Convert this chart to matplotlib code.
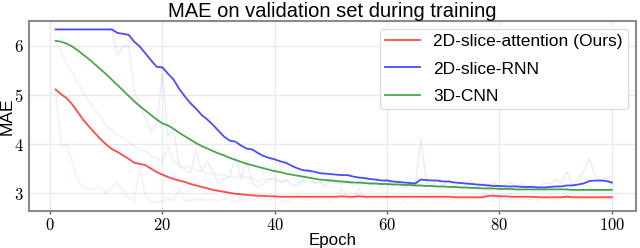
import matplotlib
matplotlib.use("Agg")
import matplotlib.pyplot as plt
import numpy as np

epochs = np.arange(1, 101)

labels = ["2D-slice-attention (Ours)", "2D-slice-RNN", "3D-CNN"]
colors = ["red", "blue", "green"]

# raw validation MAE per epoch
attn_raw = [5.11, 3.95, 3.99, 3.60, 3.24, 3.12, 3.11, 3.08, 3.13, 3.00,
            3.12, 3.22, 3.05, 2.90, 2.84, 3.52, 2.93, 2.84, 2.82, 2.83,
            2.88, 2.86, 3.08, 2.85, 2.86, 2.88, 2.87, 2.86, 2.88, 2.85,
            2.90, 2.86, 2.83, 2.88, 2.87, 2.86, 2.92, 2.88, 2.86, 2.90,
            2.86, 2.84, 2.87, 2.95, 2.88, 2.86, 2.89, 2.87, 2.90, 2.86,
            2.92, 3.10, 2.88, 2.90, 3.10, 2.89, 2.87, 2.90, 2.88, 2.91,
            2.87, 2.89, 2.86, 2.90, 2.88, 2.87, 2.92, 2.89, 2.87, 2.90,
            2.88, 2.86, 2.90, 2.87, 2.89, 2.88, 2.92, 3.22, 2.95, 2.90,
            2.88, 2.86, 2.88, 2.87, 2.89, 2.88, 2.86, 2.90, 2.88, 2.87,
            2.89, 2.98, 2.88, 2.87, 2.89, 2.88, 2.90, 2.88, 2.87, 2.89]

rnn_raw = [6.33, 6.33, 6.33, 6.33, 6.33, 6.33, 6.33, 6.33, 6.33, 6.33,
           6.33, 5.81, 5.98, 6.01, 5.07, 4.79, 4.52, 4.25, 4.39, 5.44,
           4.15, 4.29, 3.54, 3.50, 3.41, 3.88, 3.47, 3.65, 3.45, 3.20,
           3.30, 3.34, 3.76, 3.27, 3.68, 3.20, 3.13, 3.20, 3.27, 3.32,
           3.22, 3.28, 3.18, 3.15, 3.25, 3.52, 3.20, 3.25, 3.16, 3.30,
           3.22, 3.18, 3.26, 3.15, 3.20, 3.28, 3.17, 3.22, 3.14, 3.30,
           3.16, 3.24, 3.12, 3.20, 3.15, 4.12, 3.22, 3.18, 3.25, 3.16,
           3.27, 3.14, 3.22, 3.18, 3.26, 3.12, 3.20, 3.16, 3.24, 3.10,
           3.18, 3.22, 3.14, 3.20, 3.12, 3.16, 3.10, 3.22, 3.18, 3.28,
           3.20, 3.44, 3.15, 3.30, 3.45, 3.71, 3.36, 3.26, 3.32, 3.20]

cnn_raw = [6.10, 5.88, 5.64, 5.44, 5.24, 5.04, 4.86, 4.70, 4.55, 4.38,
           4.28, 4.18, 4.12, 4.04, 3.95, 3.88, 3.86, 3.76, 3.72, 3.64,
           3.95, 3.62, 3.58, 3.54, 3.52, 3.47, 3.45, 3.41, 3.40, 3.37,
           3.36, 3.34, 3.32, 3.36, 3.33, 3.30, 3.24, 3.28, 3.30, 3.27,
           3.25, 3.24, 3.30, 3.22, 3.26, 3.24, 3.23, 3.20, 3.25, 3.22,
           3.21, 3.24, 3.19, 3.22, 3.20, 3.18, 3.21, 3.17, 3.19, 3.16,
           3.18, 3.15, 3.17, 3.14, 3.16, 3.13, 3.15, 3.14, 3.12, 3.14,
           3.12, 3.11, 3.13, 3.10, 3.12, 3.09, 3.11, 3.08, 3.10, 3.07,
           3.09, 3.06, 3.08, 3.07, 3.09, 3.06, 3.08, 3.07, 3.09, 3.12,
           3.07, 3.08, 3.06, 3.08, 3.07, 3.09, 3.06, 3.08, 3.07, 3.08]

# smoothed curves
attn_smooth = [5.11, 5.01, 4.93, 4.80, 4.64, 4.48, 4.35, 4.22, 4.10, 3.99,
               3.90, 3.84, 3.77, 3.70, 3.62, 3.60, 3.57, 3.50, 3.43, 3.38,
               3.33, 3.29, 3.26, 3.23, 3.19, 3.16, 3.13, 3.10, 3.07, 3.05,
               3.03, 3.01, 2.99, 2.98, 2.97, 2.96, 2.95, 2.95, 2.94, 2.94,
               2.93, 2.93, 2.93, 2.93, 2.93, 2.93, 2.93, 2.93, 2.93, 2.93,
               2.93, 2.94, 2.93, 2.93, 2.94, 2.93, 2.93, 2.93, 2.93, 2.93,
               2.93, 2.93, 2.93, 2.93, 2.93, 2.93, 2.93, 2.93, 2.93, 2.93,
               2.93, 2.92, 2.92, 2.92, 2.92, 2.92, 2.92, 2.95, 2.95, 2.94,
               2.94, 2.93, 2.93, 2.93, 2.93, 2.93, 2.92, 2.92, 2.92, 2.92,
               2.92, 2.93, 2.92, 2.92, 2.92, 2.92, 2.92, 2.92, 2.92, 2.92]

rnn_smooth = [6.33, 6.33, 6.33, 6.33, 6.33, 6.33, 6.33, 6.33, 6.33, 6.33,
              6.33, 6.26, 6.24, 6.22, 6.08, 5.98, 5.84, 5.70, 5.57, 5.56,
              5.43, 5.31, 5.12, 4.97, 4.83, 4.72, 4.59, 4.50, 4.39, 4.27,
              4.15, 4.07, 4.05, 3.97, 3.91, 3.89, 3.82, 3.76, 3.72, 3.69,
              3.65, 3.62, 3.56, 3.51, 3.47, 3.46, 3.44, 3.41, 3.40, 3.39,
              3.38, 3.37, 3.37, 3.34, 3.32, 3.31, 3.29, 3.28, 3.26, 3.26,
              3.24, 3.23, 3.22, 3.21, 3.20, 3.28, 3.27, 3.26, 3.26, 3.24,
              3.24, 3.22, 3.21, 3.20, 3.19, 3.18, 3.17, 3.16, 3.15, 3.15,
              3.14, 3.14, 3.14, 3.13, 3.13, 3.13, 3.12, 3.12, 3.13, 3.14,
              3.14, 3.16, 3.16, 3.18, 3.20, 3.25, 3.26, 3.26, 3.25, 3.22]

cnn_smooth = [6.10, 6.08, 6.04, 5.98, 5.90, 5.81, 5.72, 5.62, 5.52, 5.42,
              5.31, 5.20, 5.09, 4.98, 4.87, 4.77, 4.68, 4.59, 4.50, 4.42,
              4.38, 4.31, 4.23, 4.16, 4.09, 4.02, 3.96, 3.91, 3.86, 3.81,
              3.77, 3.72, 3.68, 3.64, 3.60, 3.57, 3.54, 3.51, 3.48, 3.45,
              3.43, 3.40, 3.38, 3.36, 3.34, 3.32, 3.30, 3.28, 3.27, 3.26,
              3.25, 3.24, 3.23, 3.22, 3.22, 3.21, 3.20, 3.20, 3.19, 3.19,
              3.18, 3.18, 3.17, 3.17, 3.16, 3.16, 3.15, 3.15, 3.14, 3.14,
              3.13, 3.13, 3.12, 3.12, 3.11, 3.11, 3.10, 3.10, 3.10, 3.09,
              3.09, 3.09, 3.08, 3.08, 3.08, 3.08, 3.08, 3.08, 3.08, 3.08,
              3.08, 3.08, 3.07, 3.07, 3.07, 3.07, 3.07, 3.07, 3.07, 3.07]

raw_series = [attn_raw, rnn_raw, cnn_raw]
smooth_series = [attn_smooth, rnn_smooth, cnn_smooth]

xticks = [0, 20, 40, 60, 80, 100]
yticks = [3, 4, 5, 6]

plt.rcParams["font.family"] = ["Liberation Sans", "DejaVu Sans"]
plt.rcParams["mathtext.fontset"] = "cm"

fig = plt.figure(figsize=(6.4, 2.48), dpi=100)
ax = fig.add_axes([0.0453, 0.149, 0.9484, 0.766])

for vals, c in zip(raw_series, colors):
    ax.plot(epochs, vals, color=c, alpha=0.07, linewidth=1.2)
for vals, c, lab in zip(smooth_series, colors, labels):
    ax.plot(epochs, vals, color=c, alpha=0.7, linewidth=1.3, label=lab)

ax.set_xlim(-3.74, 104.3)
ax.set_ylim(2.64, 6.50)
ax.set_xticks(xticks)
ax.set_xticklabels(["$%d$" % t for t in xticks], fontsize=12)
ax.set_yticks(yticks)
ax.set_yticklabels(["$%d$" % t for t in yticks], fontsize=12)
ax.grid(True, color="#ebebeb", linewidth=1.0)
ax.set_axisbelow(True)
for sp in ax.spines.values():
    sp.set_color("#8a8a8a")
    sp.set_linewidth(1.5)
ax.tick_params(axis="x", length=2.5, width=1, color="#555555", pad=2)
ax.tick_params(axis="y", length=0, pad=4)

ax.set_title("MAE on validation set during training", fontsize=14.5, pad=2)
ax.set_xlabel("Epoch", fontsize=12.2, labelpad=0)
ax.set_ylabel("MAE", fontsize=12.5)
ax.yaxis.set_label_coords(-0.024, 0.5)

leg = ax.legend(loc="upper right", fontsize=12.5, framealpha=1.0,
                edgecolor="#dddddd", fancybox=True, borderaxespad=0.45,
                borderpad=0.3, labelspacing=0.7)

fig.savefig("out.png", dpi=100)
